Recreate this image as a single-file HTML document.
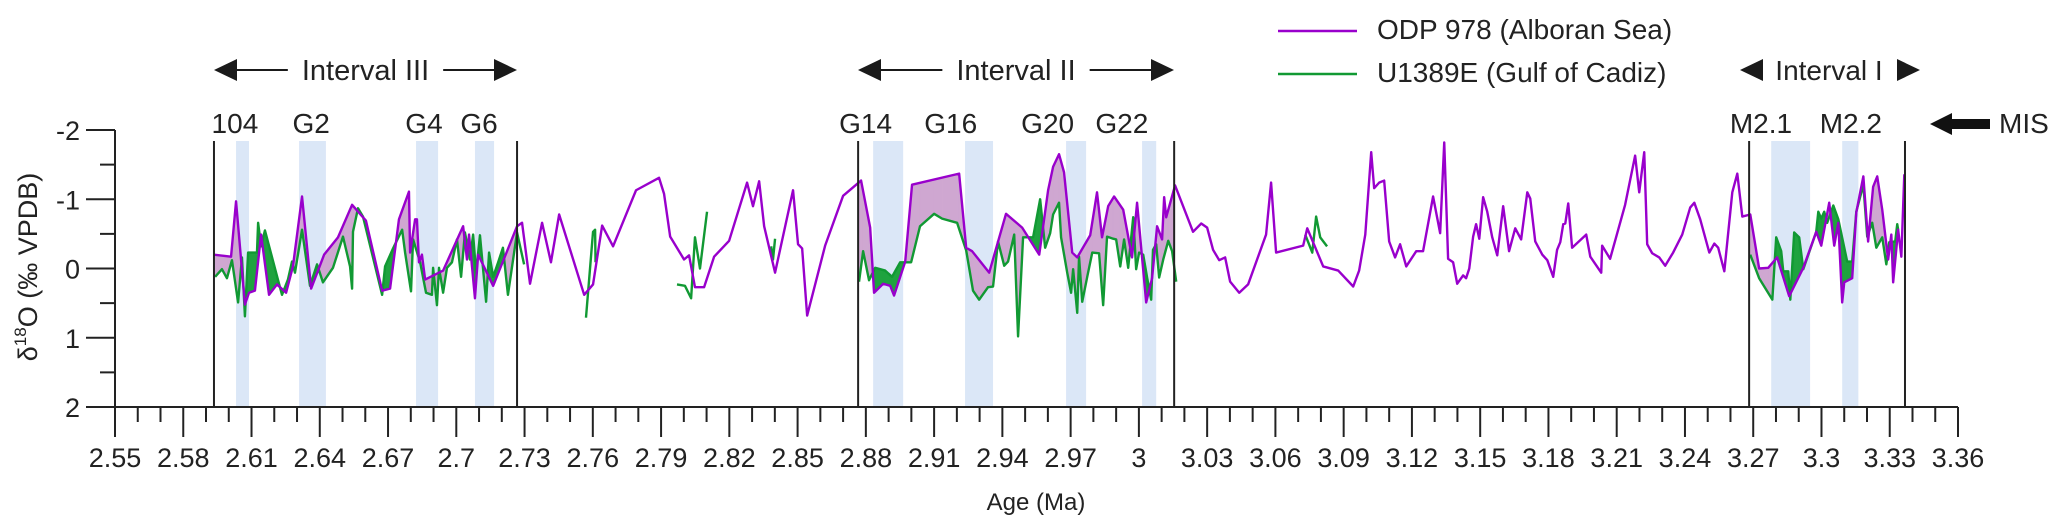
<!DOCTYPE html>
<html><head><meta charset="utf-8"><style>
body{margin:0;background:#fff;}
svg{display:block;font-family:"Liberation Sans",sans-serif;}
</style></head><body>
<svg id="chart" width="2067" height="523" viewBox="0 0 2067 523" xmlns="http://www.w3.org/2000/svg">
<g id="bands"></g>
<g id="fills"></g>
<g id="lines"></g>
<g id="axes"></g>
<g id="annot"></g>
<g id="legend">
<line x1="1278" y1="31" x2="1357" y2="31" stroke="#9900cc" stroke-width="2.5"/>
<text x="1377" y="39" font-size="28" fill="#222">ODP 978 (Alboran Sea)</text>
<line x1="1278" y1="74" x2="1357" y2="74" stroke="#119933" stroke-width="2.5"/>
<text x="1377" y="82" font-size="28" fill="#222">U1389E (Gulf of Cadiz)</text>
</g>
</svg>
<script>
const odpAge=[2.5935,2.6010,2.6032,2.6071,2.6089,2.6115,2.6142,2.6177,2.6212,2.6252,2.6282,2.6322,2.6362,2.6419,2.6480,2.6542,2.6603,2.6674,2.6709,2.6748,2.6792,2.6797,2.6819,2.6827,2.6836,2.6849,2.6863,2.6942,2.7030,2.7047,2.7056,2.7082,2.7096,2.7162,2.7267,2.7289,2.7324,2.7377,2.7416,2.7452,2.7562,2.7601,2.7641,2.7689,2.7790,2.7891,2.7913,2.7940,2.8001,2.8023,2.8049,2.8089,2.8133,2.8199,2.8278,2.8304,2.8331,2.8353,2.8401,2.8480,2.8502,2.8520,2.8542,2.8621,2.8700,2.8779,2.8819,2.8836,2.8876,2.8907,2.8924,2.8973,2.9003,2.9210,2.9241,2.9267,2.9342,2.9416,2.9487,2.9562,2.9601,2.9623,2.9649,2.9671,2.9707,2.9729,2.9786,2.9816,2.9838,2.9865,2.9891,2.9931,2.9970,2.9992,3.0032,3.0058,3.0080,3.0102,3.0111,3.0120,3.0159,3.0238,3.0274,3.0300,3.0326,3.0353,3.0379,3.0401,3.0441,3.0480,3.0559,3.0581,3.0603,3.0722,3.0740,3.0810,3.0876,3.0942,3.0968,3.0995,3.1021,3.1034,3.1056,3.1078,3.1100,3.1126,3.1148,3.1175,3.1219,3.1249,3.1293,3.1324,3.1342,3.1359,3.1381,3.1399,3.1425,3.1438,3.1452,3.1469,3.1482,3.1496,3.1513,3.1531,3.1553,3.1575,3.1601,3.1627,3.1654,3.1680,3.1707,3.1720,3.1742,3.1773,3.1795,3.1821,3.1838,3.1852,3.1865,3.1874,3.1887,3.1904,3.1966,3.1984,3.2032,3.2036,3.2071,3.2137,3.2181,3.2199,3.2221,3.2234,3.2256,3.2287,3.2313,3.2348,3.2388,3.2423,3.2441,3.2467,3.2507,3.2529,3.2546,3.2573,3.2608,3.2630,3.2652,3.2687,3.2726,3.2766,3.2805,3.2858,3.2920,3.2977,3.2999,3.3034,3.3056,3.3074,3.3091,3.3100,3.3135,3.3153,3.3184,3.3205,3.3227,3.3245,3.3267,3.3293,3.3307,3.3315,3.3337,3.3351,3.3364];
const odpD18O=[-0.20,-0.17,-0.97,0.52,0.35,0.32,-0.49,0.38,0.23,0.35,-0.03,-1.04,0.29,-0.20,-0.45,-0.92,-0.69,0.32,0.29,-0.71,-1.11,-0.23,-0.71,-0.71,-0.09,-0.20,0.16,0.03,-0.61,-0.13,-0.49,0.43,-0.20,0.25,-0.61,-0.66,0.22,-0.66,-0.09,-0.78,0.38,0.23,-0.62,-0.32,-1.13,-1.31,-1.08,-0.46,-0.13,-0.19,0.27,0.27,-0.17,-0.40,-1.24,-0.90,-1.26,-0.61,0.06,-1.13,-0.35,-0.29,0.68,-0.33,-1.05,-1.27,-0.59,0.35,0.22,0.25,0.39,-0.10,-1.21,-1.37,-0.30,-0.25,0.06,-0.79,-0.59,-0.20,-1.13,-1.47,-1.65,-1.39,-0.23,-0.16,-0.48,-1.10,-0.45,-0.90,-1.04,-0.85,-0.16,-0.95,0.49,0.14,-0.61,-0.42,-1.03,-0.74,-1.20,-0.53,-0.65,-0.59,-0.27,-0.12,-0.16,0.19,0.35,0.23,-0.49,-1.24,-0.23,-0.33,-0.58,-0.03,0.03,0.26,0.03,-0.49,-1.68,-1.16,-1.24,-1.27,-0.39,-0.16,-0.35,-0.03,-0.25,-0.25,-1.04,-0.51,-1.82,-0.14,-0.09,0.22,0.10,0.14,0,-0.46,-0.64,-0.43,-1.03,-0.82,-0.45,-0.19,-0.90,-0.25,-0.58,-0.42,-1.10,-1.01,-0.39,-0.20,-0.12,0.12,-0.27,-0.38,-0.64,-0.65,-0.94,-0.30,-0.49,-0.17,0.06,-0.33,-0.14,-0.92,-1.63,-1.10,-1.68,-0.35,-0.22,-0.16,-0.04,-0.23,-0.49,-0.88,-0.95,-0.71,-0.23,-0.36,-0.30,0.04,-1.10,-1.37,-0.75,-0.78,0,-0.01,-0.16,0.40,-0.01,-0.53,-0.33,-0.95,-0.33,-0.66,0.49,0.20,0.14,-0.81,-1.33,-0.39,-1.18,-1.33,-0.85,-0.13,-0.49,0.20,-0.56,-0.17,-1.36];
// U1389E: null marks a gap between sampled segments
const u13Age=[2.5940,2.5970,2.5992,2.6014,2.6041,2.6058,2.6071,2.6085,2.6124,2.6129,2.6142,2.6159,2.6216,2.6234,2.6260,2.6278,2.6291,2.6322,2.6357,2.6388,2.6414,2.6458,2.6502,2.6533,2.6542,2.6546,2.6568,2.6590,2.6674,2.6687,2.6722,2.6762,2.6775,2.6801,2.6810,2.6841,2.6867,2.6893,2.6898,2.6915,2.6924,2.6942,2.6959,2.6981,2.7003,2.7021,2.7038,2.7060,2.7074,2.7087,2.7104,2.7131,2.7144,2.7162,2.7184,2.7205,2.7227,2.7267,2.7298,null,
2.7570,2.7601,2.7610,2.7612,null,
2.7970,2.8005,2.8032,2.8049,2.8071,2.8102,null,
2.8384,2.8392,2.8401,null,
2.8770,2.8788,2.8814,2.8841,2.8885,2.8915,2.8951,2.8999,2.9038,2.9100,2.9135,2.9201,2.9241,2.9271,2.9298,2.9337,2.9359,2.9381,2.9408,2.9425,2.9452,2.9469,2.9491,2.9535,2.9566,2.9588,2.9610,2.9623,2.9649,2.9658,2.9685,2.9702,2.9711,2.9729,2.9737,2.9751,2.9773,2.9795,2.9825,2.9843,2.9860,2.9887,2.9900,2.9918,2.9935,2.9953,2.9975,2.9988,3.0001,3.0019,3.0036,3.0054,3.0062,3.0076,3.0089,3.0107,3.0129,3.0146,3.0164,null,
3.0731,3.0762,3.0779,3.0797,3.0827,null,
3.2687,3.2726,3.2784,3.2801,3.2823,3.2832,3.2854,3.2863,3.2880,3.2902,3.2920,3.2977,3.2986,3.2999,3.3012,3.3025,3.3052,3.3074,3.3113,3.3135,3.3153,3.3184,3.3201,3.3223,3.3241,3.3267,3.3285,3.3298,3.3324,3.3333,3.3337];
const u13D18O=[0.12,0.01,0.14,-0.12,0.49,-0.16,0.69,-0.23,-0.23,-0.66,-0.32,-0.55,0.16,0.38,0.16,-0.10,0.06,-0.56,0.25,-0.06,0.20,-0.01,-0.46,-0.03,0.29,-0.53,-0.87,-0.75,0.38,-0.03,-0.29,-0.56,-0.23,0.33,-0.42,-0.09,0.35,0.38,-0.01,0.53,-0.01,0.35,-0.01,-0.09,-0.42,0.12,-0.52,-0.13,-0.49,0.06,-0.48,0.48,-0.23,0.12,-0.09,-0.30,0.38,-0.52,-0.06,null,
0.71,-0.53,-0.56,-0.09,null,
0.23,0.25,0.43,-0.45,0,-0.82,null,
-0.32,-0.13,-0.43,null,
0.19,-0.25,0.17,-0.01,0.03,0.12,-0.09,-0.09,-0.61,-0.79,-0.72,-0.66,-0.26,0.32,0.45,0.27,0.26,-0.39,-0.04,-0.10,-0.49,0.98,-0.45,-0.45,-1.00,-0.30,-0.51,-0.78,-0.95,-0.45,0.06,0.35,0.01,0.64,-0.17,0.48,0.12,-0.23,-0.22,0.53,-0.46,-0.43,-0.42,-0.03,-0.42,-0.01,-0.74,0.01,-0.23,-0.20,0.13,0.45,-0.27,-0.35,0.13,-0.13,-0.40,-0.25,0.19,null,
-0.49,-0.23,-0.75,-0.45,-0.32,null,
-0.20,0.14,0.45,-0.45,-0.25,0.04,0.04,0.45,-0.52,-0.45,0.01,-0.53,-0.82,-0.72,-0.82,-0.66,-0.91,-0.71,-0.10,-0.10,-0.82,-1.21,-0.46,-0.66,-0.30,-0.45,-0.06,-0.38,-0.39,-0.64,-0.56];
const xTickLabels=["2.55","2.58","2.61","2.64","2.67","2.7","2.73","2.76","2.79","2.82","2.85","2.88","2.91","2.94","2.97","3","3.03","3.06","3.09","3.12","3.15","3.18","3.21","3.24","3.27","3.3","3.33","3.36"];
const yTickValues=[-2,-1,0,1,2];
const intervalBounds=[[2.5935,2.7267],[2.8766,3.0155],[3.2682,3.3367]];
const intervalNames=["Interval III","Interval II","Interval I"];
const bandNames=["104","G2","G4","G6","G14","G16","G20","G22","M2.1","M2.2"];
const bandStart=[2.6032,2.6309,2.6823,2.7082,2.8832,2.9236,2.9680,3.0014,3.2779,3.3091];
const bandEnd=[2.6089,2.6427,2.6920,2.7166,2.8964,2.9359,2.9768,3.0076,3.2950,3.3162];
const bandLabelAge=[2.6027,2.6362,2.6858,2.7100,2.8799,2.9173,2.9599,2.9925,3.2734,3.3129];

const NS="http://www.w3.org/2000/svg";
const X0=115,X1=1958,A0=2.55,A1=3.36,YT=130,YB=407,V0=-2,V1=2;
const xs=a=>X0+(a-A0)/(A1-A0)*(X1-X0);
const ys=v=>YT+(v-V0)/(V1-V0)*(YB-YT);
function mk(tag,attrs,parent){const e=document.createElementNS(NS,tag);for(const k in attrs)e.setAttribute(k,attrs[k]);parent.appendChild(e);return e;}
const gB=document.getElementById('bands'),gF=document.getElementById('fills'),gL=document.getElementById('lines'),gA=document.getElementById('axes'),gN=document.getElementById('annot');

// bands
bandNames.forEach((n,i)=>{
  const r=mk('rect',{x:xs(bandStart[i]),y:141,width:xs(bandEnd[i])-xs(bandStart[i]),height:YB-141,fill:'#dbe7f7'},gB);
  
  
  const t=mk('text',{x:xs(bandLabelAge[i]),y:133,'font-size':28,'text-anchor':'middle',fill:'#222'},gN);
  t.textContent=n;
  
  
});

// series helpers
function segments(ages,vals){const out=[];let cur=[];ages.forEach((a,i)=>{if(a===null){if(cur.length)out.push(cur);cur=[];}else cur.push([a,vals[i]]);});if(cur.length)out.push(cur);return out;}
function interp(seg,a){for(let i=0;i<seg.length-1;i++){if(a>=seg[i][0]&&a<=seg[i+1][0]){const t=(a-seg[i][0])/((seg[i+1][0]-seg[i][0])||1);return seg[i][1]+t*(seg[i+1][1]-seg[i][1]);}}return null;}
const odpSeg=segments(odpAge,odpD18O)[0];
const u13Segs=segments(u13Age,u13D18O);

// fills between series within intervals
intervalBounds.forEach((b,k)=>{
  u13Segs.forEach(g=>{
    const s=Math.max(g[0][0],b[0],odpSeg[0][0]),e=Math.min(g[g.length-1][0],b[1],odpSeg[odpSeg.length-1][0]);
    if(e<=s||g[0][0]<b[0]-0.002||g[0][0]>b[1])return;
    let grid=[s,e];odpSeg.forEach(p=>{if(p[0]>s&&p[0]<e)grid.push(p[0]);});g.forEach(p=>{if(p[0]>s&&p[0]<e)grid.push(p[0]);});
    grid.sort((a,c)=>a-c);
    for(let i=0;i<grid.length-1;i++){
      const a1=grid[i],a2=grid[i+1];const p1=interp(odpSeg,a1),p2=interp(odpSeg,a2),g1=interp(g,a1),g2=interp(g,a2);
      if(p1===null||p2===null||g1===null||g2===null)continue;
      const d1=p1-g1,d2=p2-g2;
      const poly=(aa,bb,pa,pb,ga,gb,col)=>{const pg=mk('polygon',{points:`${xs(aa)},${ys(pa)} ${xs(bb)},${ys(pb)} ${xs(bb)},${ys(gb)} ${xs(aa)},${ys(ga)}`,fill:col,stroke:col,'stroke-width':0.6},gF);
        
        };
      const colOf=d=>d<0?'#cfa7d1':'#1fa33f';
      if(d1*d2<0){const t=d1/(d1-d2);const am=a1+t*(a2-a1);const vm=p1+t*(p2-p1);poly(a1,am,p1,vm,g1,vm,colOf(d1));poly(am,a2,vm,p2,vm,g2,colOf(d2));}
      else poly(a1,a2,p1,p2,g1,g2,colOf(d1+d2));
    }
  });
});

// lines
u13Segs.forEach((g,i)=>{
  const pl=mk('polyline',{points:g.map(p=>xs(p[0])+','+ys(p[1])).join(' '),fill:'none',stroke:'#119933','stroke-width':2.4,'stroke-linejoin':'round'},gL);
  
  
});
const pOdp=mk('polyline',{points:odpSeg.map(p=>xs(p[0])+','+ys(p[1])).join(' '),fill:'none',stroke:'#9900cc','stroke-width':2.4,'stroke-linejoin':'round'},gL);



// interval lines & annotations
intervalBounds.forEach((b,k)=>{
  b.forEach(a=>{const l=mk('line',{x1:xs(a),x2:xs(a),y1:141,y2:YB,stroke:'#222','stroke-width':2},gN);
    
    });
});
function arrowHead(x,y,dir){const p=mk('polygon',{points:`${x},${y} ${x-dir*23},${y-11} ${x-dir*23},${y+11}`,fill:'#1a1a1a'},gN);
  
  }
const ay=70;
[[0,214,517],[1,858,1174]].forEach(([k,l,r])=>{
  const c=(l+r)/2;
  const t=mk('text',{x:c,y:80,'font-size':29,'text-anchor':'middle',fill:'#222'},gN);t.textContent=intervalNames[k];
  
  
  const hw=t.getComputedTextLength()/2+14;
  arrowHead(l,ay,-1);arrowHead(r,ay,1);
  const l1=mk('line',{x1:l+20,x2:c-hw,y1:ay,y2:ay,stroke:'#1a1a1a','stroke-width':2},gN);
  
  
  const l2=mk('line',{x1:c+hw,x2:r-20,y1:ay,y2:ay,stroke:'#1a1a1a','stroke-width':2},gN);
  
  
});
{const t=mk('text',{x:1829,y:80,'font-size':28,'text-anchor':'middle',fill:'#222'},gN);t.textContent=intervalNames[2];
 
 
 arrowHead(1740,ay,-1);arrowHead(1920,ay,1);}
{const p=mk('polygon',{points:'1930,124 1952,113 1952,119 1990,119 1990,129 1952,129 1952,135',fill:'#111'},gN);
 
 
 const t=mk('text',{x:1999,y:133,'font-size':28,fill:'#222'},gN);t.textContent='MIS';
 
 }

// axes
const ax=mk('path',{d:`M${X0},${YT} V${YB} H${X1}`,fill:'none',stroke:'#222','stroke-width':2},gA);


for(let i=0;i<=81;i++){const a=A0+i*0.01;const major=i%3===0;
  const tk=mk('line',{x1:xs(a),x2:xs(a),y1:YB,y2:major?437:422,stroke:'#222','stroke-width':2},gA);
  
  }
xTickLabels.forEach(s=>{const t=mk('text',{x:xs(parseFloat(s)),y:467,'font-size':27,'text-anchor':'middle',fill:'#222'},gA);t.textContent=s;
  
  });
for(let v=-2;v<=2;v+=0.5){const major=Number.isInteger(v);
  const tk=mk('line',{x1:major?86:100,x2:X0,y1:ys(v),y2:ys(v),stroke:'#222','stroke-width':2},gA);
  
  }
yTickValues.forEach(v=>{const t=mk('text',{x:80,y:ys(v)+10,'font-size':27,'text-anchor':'end',fill:'#222'},gA);t.textContent=String(v);
  
  });
{const t=mk('text',{x:1036,y:510,'font-size':24,'text-anchor':'middle',fill:'#222'},gA);t.textContent='Age (Ma)';
 
 }
{const t=mk('text',{x:0,y:0,'font-size':27,'text-anchor':'middle',fill:'#222',transform:'translate(37,267) rotate(-90)'},gA);
 t.innerHTML='δ<tspan font-size="17" dy="-11">18</tspan><tspan dy="11">O (‰ VPDB)</tspan>';
 
 }
</script>
</body></html>
